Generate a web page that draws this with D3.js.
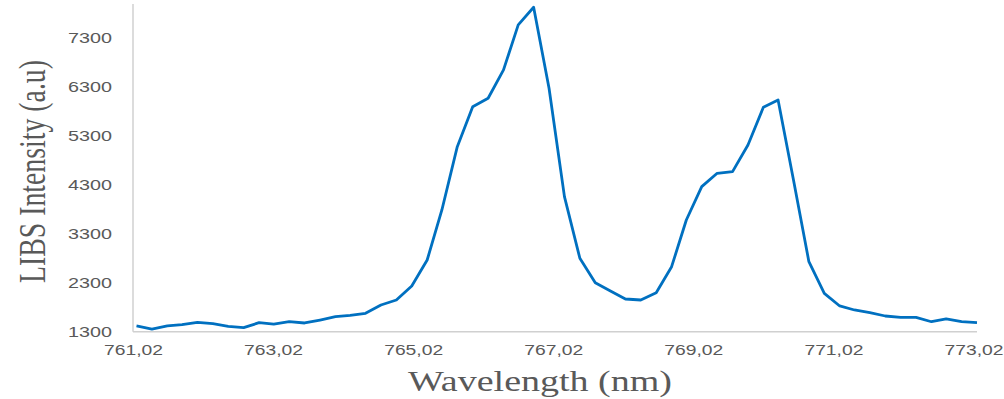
<!DOCTYPE html>
<html>
<head>
    <script src="https://d3js.org/d3.v7.min.js"></script>
</head>

<style>
body { margin: 0; background: #ffffff; }
.tick text { fill: #595959; font-family: "Liberation Sans", Arial, sans-serif; font-size: 14px; }
.title { fill: #595959; font-family: "Liberation Serif", "Times New Roman", serif; }
</style>

<body>
<div id="chart"></div>

<script>
    // Spectrum (nm, a.u.)
    var wavelength = [761.02, 761.24, 761.46, 761.67, 761.89, 762.11, 762.33, 762.55, 762.77, 762.98,
                      763.20, 763.42, 763.64, 763.86, 764.07, 764.29, 764.51, 764.73, 764.95, 765.17,
                      765.38, 765.60, 765.82, 766.04, 766.26, 766.47, 766.69, 766.91, 767.13, 767.35,
                      767.57, 767.78, 768.00, 768.22, 768.44, 768.66, 768.87, 769.09, 769.31, 769.53,
                      769.75, 769.97, 770.18, 770.40, 770.62, 770.84, 771.06, 771.27, 771.49, 771.71,
                      771.93, 772.15, 772.37, 772.58, 772.80, 773.02];
    var intensity = [1417, 1355, 1417, 1443, 1492, 1464, 1410, 1382, 1484, 1457,
                     1504, 1478, 1539, 1607, 1635, 1676, 1846, 1948, 2235, 2766,
                     3789, 5083, 5901, 6073, 6652, 7572, 7934, 6278, 4061, 2801,
                     2302, 2138, 1969, 1948, 2098, 2629, 3584, 4265, 4539, 4572,
                     5118, 5889, 6039, 4402, 2731, 2085, 1826, 1744, 1689, 1621,
                     1594, 1594, 1504, 1560, 1504, 1484];

    var xTicks = [761.02, 763.02, 765.02, 767.02, 769.02, 771.02, 773.02];
    var yTicks = [1300, 2300, 3300, 4300, 5300, 6300, 7300];

    var width = 1004, height = 399;
    // plot area edges (note: "top" is taken by window.top, so prefix them)
    var plotLeft = 133, plotRight = 977, plotTop = 4, plotBottom = 331.7;

    var svg = d3.select("#chart")
        .append("svg")
        .attr("width", width)
        .attr("height", height);

    var x = d3.scaleLinear()
        .domain([761.02, 773.02])
        .range([plotLeft + 3.5, plotRight]);
    var y = d3.scaleLinear()
        .domain([1300, 8000])
        .range([plotBottom, plotTop]);

    // comma as decimal mark, as in the original
    var commaFmt = d3.formatLocale({decimal: ",", thousands: ".", grouping: [3], currency: ["", ""]}).format(".2f");

    // Axis lines
    svg.append("line")
        .attr("x1", plotLeft).attr("x2", plotRight)
        .attr("y1", plotBottom).attr("y2", plotBottom)
        .style("stroke", "#d0d0d0").style("stroke-width", 1.5);
    svg.append("line")
        .attr("x1", plotLeft).attr("x2", plotLeft)
        .attr("y1", plotTop).attr("y2", plotBottom)
        .style("stroke", "#d0d0d0").style("stroke-width", 1.5);

    // X axis
    var xAxis = svg.append("g")
        .attr("transform", "translate(0," + plotBottom + ")")
        .call(d3.axisBottom(x).tickValues(xTicks).tickSize(0).tickFormat(commaFmt));
    xAxis.select(".domain").remove();
    xAxis.selectAll("text")
        .attr("y", 23.3)
        .attr("dy", 0)
        .attr("dx", -3.5)
        .attr("textLength", 59)
        .attr("lengthAdjust", "spacingAndGlyphs");

    // Y axis
    var yAxis = svg.append("g")
        .attr("transform", "translate(" + plotLeft + ",0)")
        .call(d3.axisLeft(y).tickValues(yTicks).tickSize(0).tickPadding(21).tickFormat(d3.format("d")));
    yAxis.select(".domain").remove();
    yAxis.selectAll("text")
        .attr("textLength", 44)
        .attr("lengthAdjust", "spacingAndGlyphs");

    // The spectrum line
    var points = wavelength.map((w, i) => [w, intensity[i]]);
    var line = d3.line()
        .x(d => x(d[0]))
        .y(d => y(d[1]));
    svg.append("path")
        .datum(points)
        .attr("d", line)
        .style("fill", "none")
        .style("stroke", "#0070c0")
        .style("stroke-width", 2.8)
        .style("stroke-linejoin", "round");

    // Axis titles (the picture is stretched sideways, so the titles are too)
    svg.append("text")
        .attr("class", "title")
        .attr("x", 540)
        .attr("y", 391)
        .attr("text-anchor", "middle")
        .attr("font-size", "29px")
        .attr("textLength", 264)
        .attr("lengthAdjust", "spacingAndGlyphs")
        .text("Wavelength (nm)");

    svg.append("text")
        .attr("class", "title")
        .attr("transform", "translate(45,171.5) rotate(-90)")
        .attr("text-anchor", "middle")
        .attr("font-size", "38px")
        .attr("textLength", 223)
        .attr("lengthAdjust", "spacingAndGlyphs")
        .text("LIBS Intensity (a.u)");
</script>
</body>
</html>
